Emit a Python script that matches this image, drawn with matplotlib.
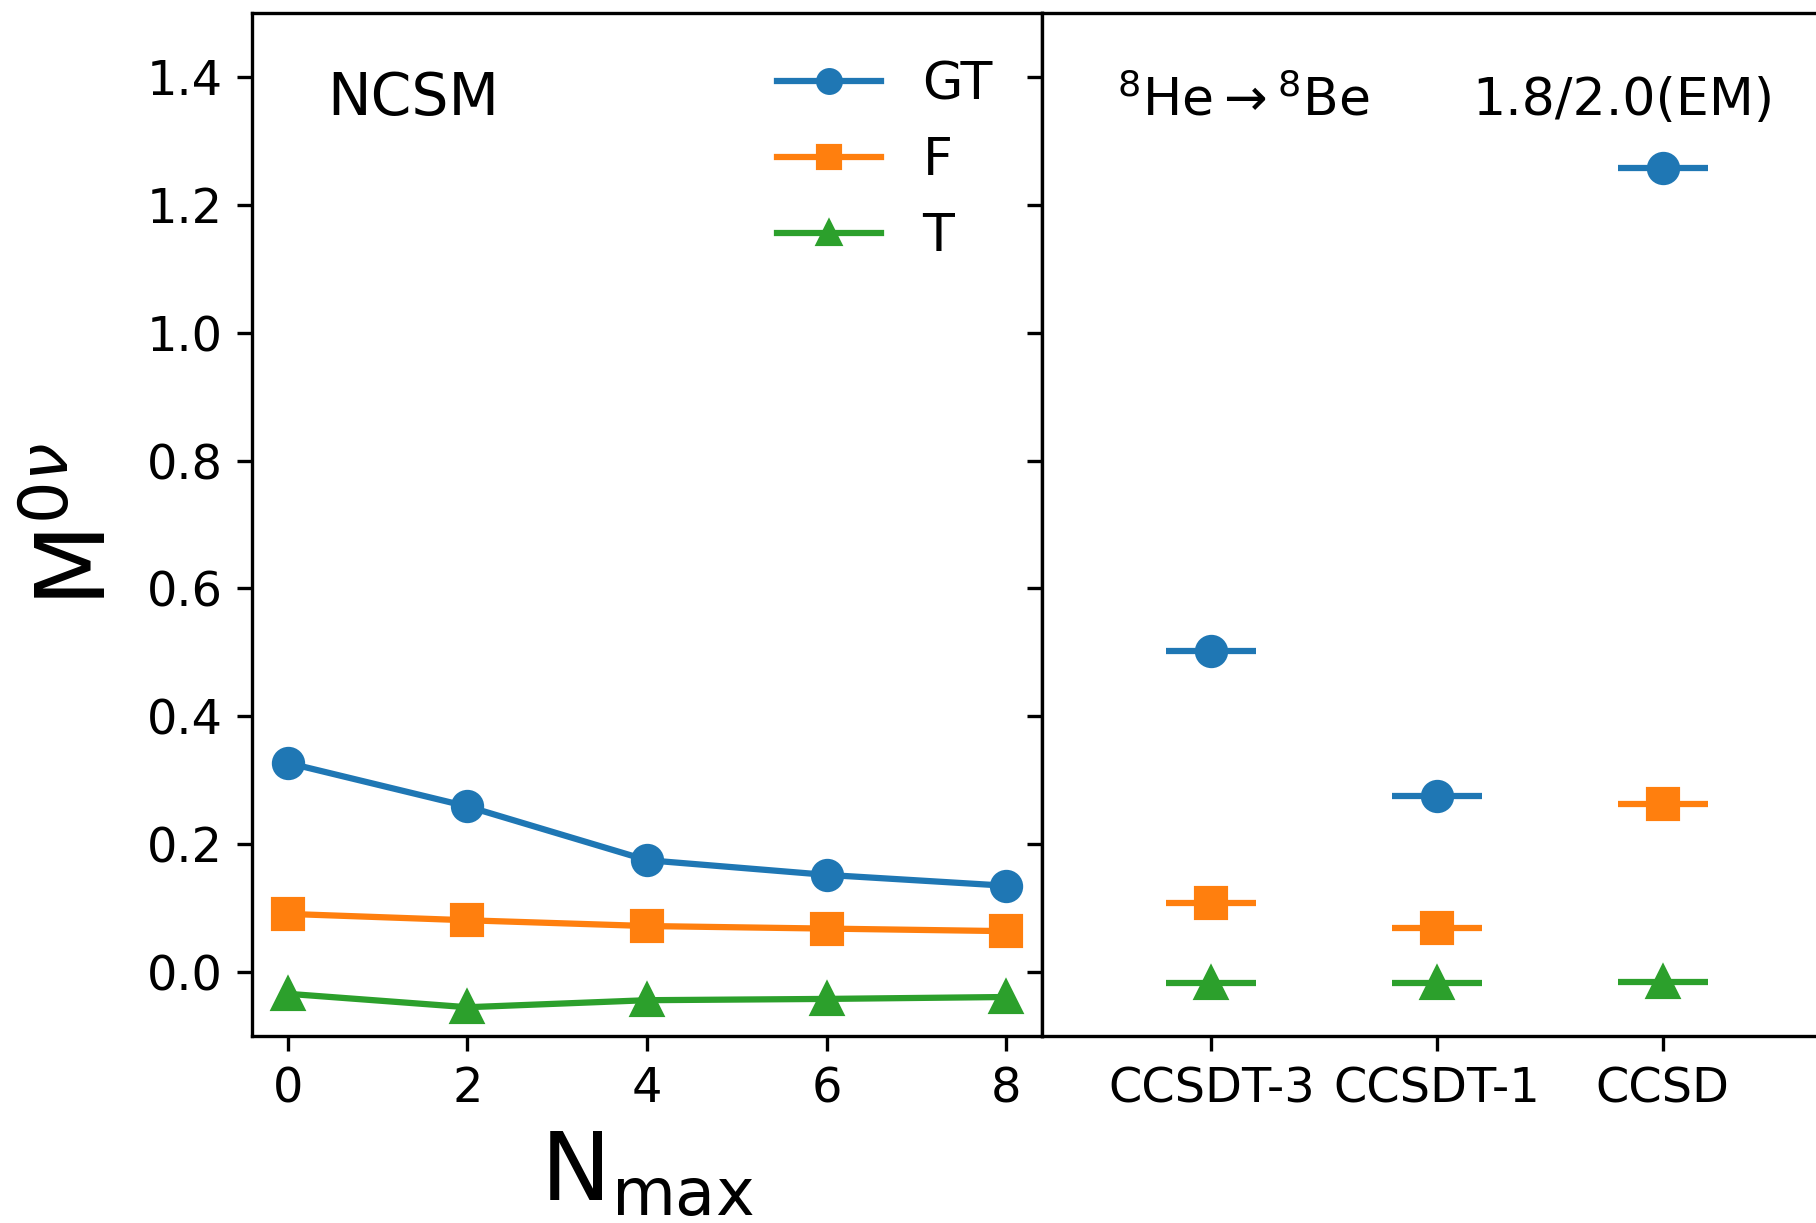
import matplotlib
matplotlib.use("Agg")
import matplotlib.pyplot as plt

# NCSM results versus model-space size
nmax = [0, 2, 4, 6, 8]
gt_ncsm = [0.327, 0.259, 0.175, 0.152, 0.135]
f_ncsm = [0.091, 0.081, 0.072, 0.068, 0.064]
t_ncsm = [-0.034, -0.055, -0.044, -0.042, -0.039]

# Coupled-cluster results for the three truncations
methods = ["CCSDT-3", "CCSDT-1", "CCSD"]
gt_cc = [0.502, 0.276, 1.258]
f_cc = [0.108, 0.069, 0.263]
t_cc = [-0.017, -0.017, -0.016]

labels = ["GT", "F", "T"]
colors = ["#1f77b4", "#ff7f0e", "#2ca02c"]
markers = ["o", "s", "^"]

W, H, DPI = 1816, 1223, 300
fig = plt.figure(figsize=(W / DPI, H / DPI), dpi=DPI)

left, bottom, width, height = 0.13877, 0.1529, 0.43502, 0.8365
ax1 = fig.add_axes([left, bottom, width, height])
ax2 = fig.add_axes([left + width, bottom, width, height], sharey=ax1)

ms = 7
for ys, lab, c, m in zip([gt_ncsm, f_ncsm, t_ncsm], labels, colors, markers):
    ax1.plot(nmax, ys, marker=m, color=c, lw=1.5, ms=ms, label=lab)

xpos = list(range(len(methods)))
for ys, c, m in zip([gt_cc, f_cc, t_cc], colors, markers):
    ax2.errorbar(xpos, ys, xerr=0.2, fmt=m, color=c, ms=ms,
                 elinewidth=1.5, capsize=0)

ax1.set_xlim(-0.4, 8.4)
ax1.set_ylim(-0.1, 1.5)
ax1.set_xticks(nmax)
ax1.set_yticks([0.0, 0.2, 0.4, 0.6, 0.8, 1.0, 1.2, 1.4])
ax1.tick_params(labelsize=11.5)

ax2.set_xlim(-0.75, 2.75)
ax2.set_xticks(xpos)
ax2.set_xticklabels(methods)
ax2.tick_params(labelsize=11.5, labelleft=False)

ax1.set_xlabel(r"$\mathrm{N}_{\mathrm{max}}$", fontsize=22.5, labelpad=4)
ax1.set_ylabel(r"$\mathrm{M}^{0\nu}$", fontsize=23, labelpad=5)

ax1.text(0.0956, 0.900, "NCSM", transform=ax1.transAxes, fontsize=14,
         va="baseline", ha="left")
ax2.text(0.095, 0.900, r"$^{8}\mathrm{He}\rightarrow{}^{8}\mathrm{Be}$",
         transform=ax2.transAxes, fontsize=12.5, va="baseline", ha="left")
ax2.text(0.544, 0.900, "1.8/2.0(EM)", transform=ax2.transAxes,
         fontsize=12.5, va="baseline", ha="left")

ax1.legend(loc="upper left", bbox_to_anchor=(0.664, 0.954), frameon=False,
           fontsize=12.5, borderpad=0, borderaxespad=0, labelspacing=0.5,
           handlelength=2.0, handletextpad=0.8, markerscale=0.78)

fig.savefig("out.png", dpi=DPI)
